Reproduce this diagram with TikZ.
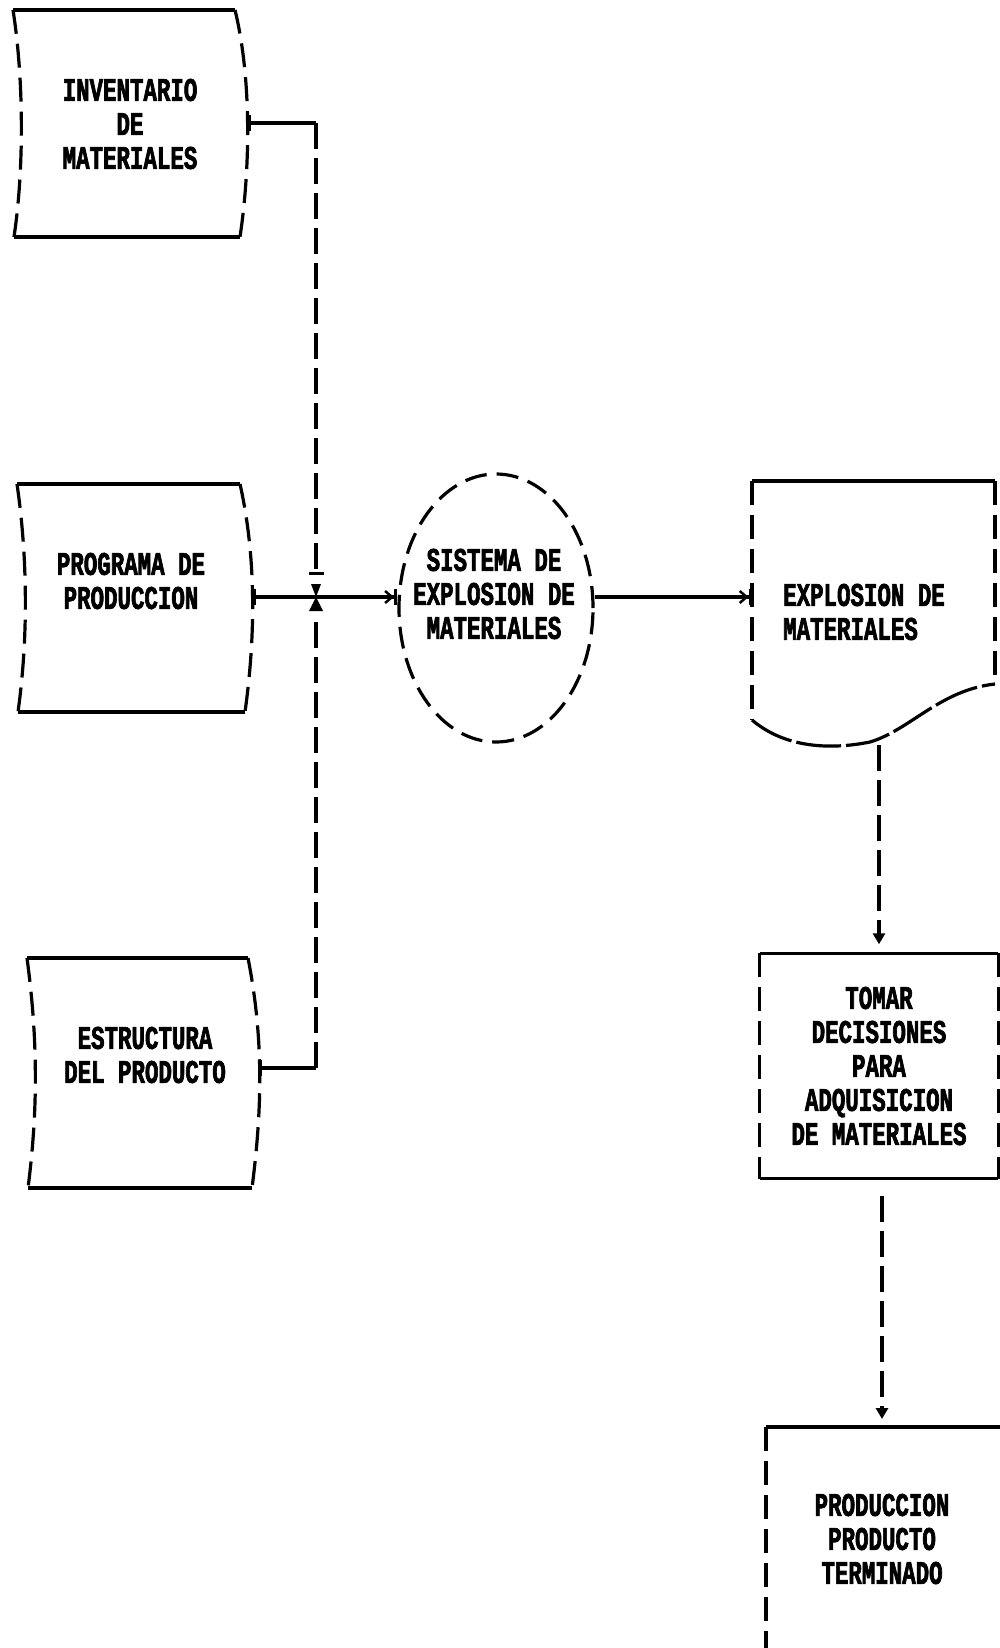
\documentclass[tikz,border=0pt]{standalone}
\usepackage{fontspec}
\newfontfamily\pixfont{Liberation Mono}[FakeStretch=0.68,FakeBold=2]
\usetikzlibrary{arrows.meta,shapes.geometric}
\begin{document}
\begin{tikzpicture}[x=1pt,y=-1pt,
  solidln/.style={line width=3.4pt},
  dashln/.style={line width=3.2pt, dash pattern=on 26pt off 9pt},
  sideln/.style={line width=3.2pt, dash pattern=on 24pt off 10pt},
  ellln/.style={line width=3.2pt, dash pattern=on 22pt off 10pt},
  waveln/.style={line width=3.2pt, dash pattern=on 45pt off 5pt},
  lbl/.style={font=\pixfont\bfseries\fontsize{33}{34}\selectfont, align=center, inner sep=0pt},
  tri/.style={-{Triangle[length=11pt,width=12pt]}}
]
\fill[white] (0,0) rectangle (1000,1648);
\useasboundingbox (0,0) rectangle (1000,1648);

% ---- Inventario de materiales (stored data shape)
\draw[solidln] (13,10) -- (235,10);
\draw[solidln] (14,237) -- (240,237);
\draw[sideln] (13,10) .. controls (24,80) and (24,170) .. (14,237);
\draw[sideln] (235,10) .. controls (252,80) and (250,170) .. (240,237);
\node[lbl] (inv) at (130,124) {INVENTARIO\\DE\\MATERIALES};
\coordinate (inv-e) at (248,123);

% ---- Programa de produccion
\draw[solidln] (17,484) -- (240,484);
\draw[solidln] (18,712) -- (245,712);
\draw[sideln] (17,484) .. controls (28,560) and (28,640) .. (18,712);
\draw[sideln] (240,484) .. controls (257,560) and (255,640) .. (245,712);
\node[lbl] (prog) at (131,581) {PROGRAMA DE\\PRODUCCION};
\coordinate (prog-e) at (253,597);

% ---- Estructura del producto
\draw[solidln] (27,958) -- (248,958);
\draw[solidln] (28,1188) -- (252,1188);
\draw[sideln] (27,958) .. controls (38,1040) and (38,1110) .. (28,1188);
\draw[sideln] (248,958) .. controls (264,1040) and (262,1110) .. (252,1188);
\node[lbl] (est) at (145,1055) {ESTRUCTURA\\DEL PRODUCTO};
\coordinate (est-e) at (259,1068);

% ---- Sistema de explosion (ellipse)
\node[ellipse, draw, ellln, minimum width=194pt, minimum height=268pt, inner sep=0pt] (ell) at (496,608) {};
\node[lbl] (elltxt) at (494,594) {SISTEMA DE\\EXPLOSION DE\\MATERIALES};

% ---- Explosion de materiales (document)
\draw[solidln] (752,481) -- (995,481);
\draw[sideln] (752,481) -- (752,720);
\draw[sideln] (995,481) -- (995,684);
\draw[waveln] (752,720) .. controls (785,748) and (830,750) .. (870,742) .. controls (910,730) and (940,690) .. (995,684);
\node[lbl, align=left] (doctxt) at (864,612) {EXPLOSION DE\\MATERIALES};
\coordinate (doc-w) at (752,597);
\coordinate (doc-s) at (879,745);

% ---- Tomar decisiones
\node[lbl, minimum width=238pt, minimum height=225pt] (tom) at (879,1066) {TOMAR\\DECISIONES\\PARA\\ADQUISICION\\DE MATERIALES};
\draw[solidln] (tom.north west) -- (tom.north east);
\draw[solidln] (tom.south west) -- (tom.south east);
\draw[sideln] (tom.north west) -- (tom.south west);
\draw[sideln] (tom.north east) -- (tom.south east);

% ---- Produccion producto terminado
\node[lbl] (fin) at (882,1539) {PRODUCCION\\PRODUCTO\\TERMINADO};
\coordinate (fin-nw) at (766,1427);
\coordinate (fin-ne) at (1003,1427);
\coordinate (fin-n) at (882,1427);
\coordinate (fin-sw) at (766,1652);
\draw[solidln] (fin-nw) -- (fin-ne);
\draw[sideln] (fin-nw) -- (fin-sw);

% ---- connectors
\coordinate (c-inv) at (316,123);
\coordinate (j-top) at (316,575);
\coordinate (jn) at (316,597);
\coordinate (j-bot) at (316,618);
\coordinate (c-est) at (316,1068);

\draw[solidln, {Bar[width=16pt]}-] (inv-e) -- (c-inv);
\draw[dashln, -{Bar[width=15pt,line width=3pt]}] (c-inv) -- (j-top);
\fill (311,584) -- (321,584) -- (jn) -- cycle;

\draw[solidln, {Bar[width=16pt]}-] (est-e) -- (c-est);
\draw[dashln] (c-est) -- (j-bot);
\fill (309,611) -- (323,611) -- (jn) -- cycle;

\draw[solidln, {Bar[width=16pt]}-{Straight Barb[length=7pt,width=12pt,line width=2.5pt] Bar[width=16pt]}] (prog-e) -- (prog-e -| ell.west);
\draw[solidln, -{Straight Barb[length=7pt,width=12pt,line width=2.5pt] Bar[width=16pt]}] (ell.east |- doc-w) -- (doc-w);

\draw[dashln, tri, shorten >=9pt] (doc-s) -- (doc-s |- tom.north);
\draw[dashln, tri, shorten <=17pt, shorten >=8pt] (tom.south -| fin-n) -- (fin-n);
\end{tikzpicture}
\end{document}
